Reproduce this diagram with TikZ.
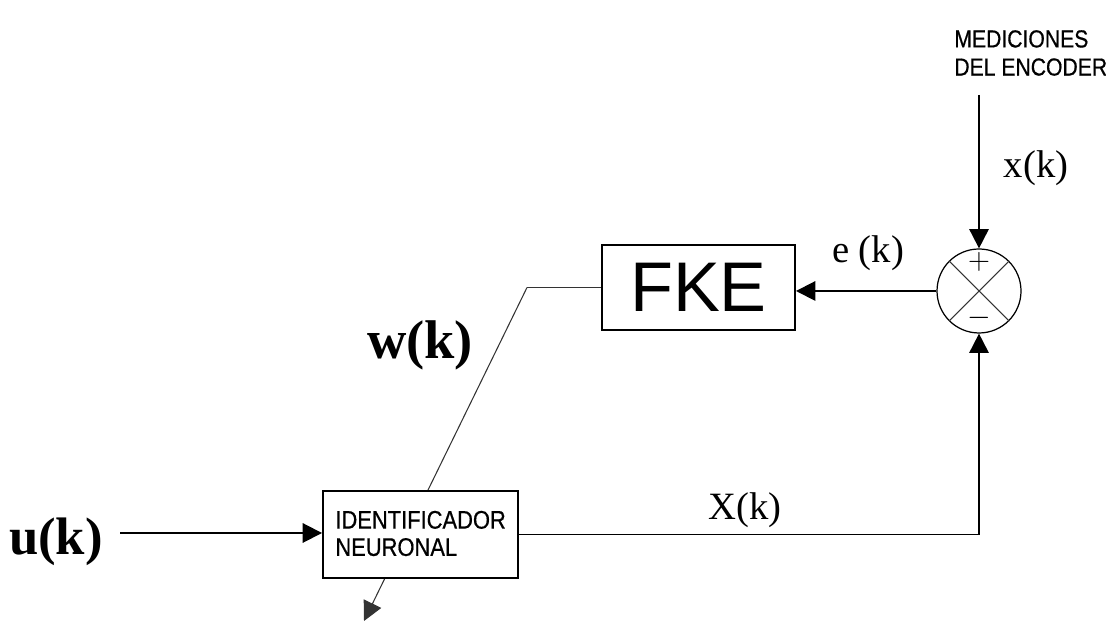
\documentclass[tikz,border=0pt]{standalone}
\usepackage{fontspec}
\setmainfont{Liberation Serif}
\newfontfamily\arialf{Liberation Sans}
\newfontfamily\arialn[FakeStretch=0.86, FakeBold=0.6]{Liberation Sans}
\usetikzlibrary{arrows.meta, calc, positioning}

\tikzset{
  blockbox/.style={draw, line width=1.1pt, fill=white, inner sep=0pt},
  sigline/.style={line width=1.1pt},
  thinline/.style={line width=0.6pt, black!80},
  tip/.style={-{Triangle[length=11pt, width=11pt]}},
  siglabel/.style={font=\fontsize{22}{24}\selectfont}
}

\begin{document}
\begin{tikzpicture}[>=stealth]
    \useasboundingbox (0,0) rectangle (22.12,12.48);

    % Kalman filter block and summing junction
    \node[blockbox, minimum width=3.86cm, minimum height=1.7cm,
          font=\arialf\fontsize{40}{40}\selectfont] (fke) at (13.97, 6.73) {FKE};
    \node[draw, circle, line width=0.7pt, minimum size=1.68cm, inner sep=0pt] (sum) at (19.58, 6.66) {};
    \draw[thinline] (sum.45) -- (sum.225);
    \draw[thinline] (sum.135) -- (sum.315);
    \node[font=\fontsize{18}{18}\selectfont] (plus) at ($(sum.center)+(0,0.58)$) {$+$};
    \node[font=\fontsize{18}{18}\selectfont] (minus) at ($(sum.center)+(0,-0.54)$) {$-$};

    % Weights output: passes behind the identifier block
    \coordinate (bend) at (10.54, 6.73);
    \coordinate (wout) at (7.28, 0.06);
    \draw[thinline] (fke.west) -- (bend);
    \draw[thinline, tip] (bend) -- (wout);

    % Neural identifier (drawn on top of the weights line)
    \node[blockbox, minimum width=3.9cm, minimum height=1.74cm] (ident) at (8.41, 1.79) {};
    \node[font=\arialn\fontsize{14.5}{15.5}\selectfont, align=left, anchor=west,
          inner sep=0pt] (identtxt) at ($(ident.west)+(0.26,0.02)$) {IDENTIFICADOR\\NEURONAL};

    % Encoder measurements
    \node[font=\arialn\fontsize{14}{16}\selectfont, align=left, anchor=west,
          inner sep=0pt] (enc) at (19.08, 11.42) {MEDICIONES\\DEL ENCODER};
    \coordinate (xin) at (19.58, 10.58);
    \draw[sigline, tip] (xin) -- (sum.north);

    % Input and estimated state
    \node[siglabel, font=\fontsize{30}{32}\selectfont\bfseries] (u) at (1.12, 1.64) {u(k)};
    \coordinate (uin) at (2.4, 1.82);
    \draw[sigline, tip] (uin) -- (uin -| ident.west);
    \coordinate (corner) at (sum.center |- ident.east);
    \draw[sigline, tip] (ident.east) -- (corner) -- (sum.south);

    % Error into the filter
    \draw[sigline, tip] (sum.west) -- (sum.west -| fke.east);

    % Labels
    \node[siglabel] (xk) at (20.72, 9.12) {x(k)};
    \node[siglabel] (ek) at (17.36, 7.42) {e (k)};
    \node[siglabel] (Xk) at (14.9, 2.28) {X(k)};
    \node[font=\fontsize{31}{33}\selectfont\bfseries] (wk) at (8.4, 5.58) {w(k)};
\end{tikzpicture}
\end{document}
